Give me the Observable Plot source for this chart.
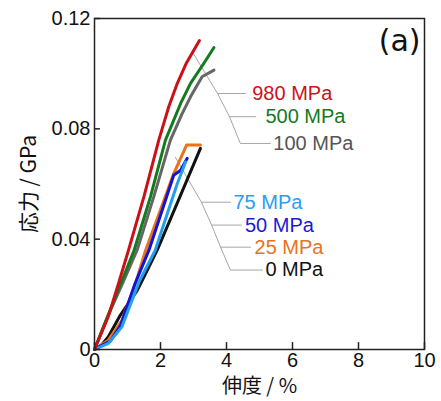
<!DOCTYPE html>
<html><head><meta charset="utf-8">
<script src="https://cdn.jsdelivr.net/npm/d3@7"></script>
<script src="https://cdn.jsdelivr.net/npm/@observablehq/plot@0.6"></script>
<style>body{margin:0;background:#fff}</style>
</head><body><div id="chart"></div>
<script>
// strain (%), stress (GPa)
const curve0   = [[0,0],[0.2,0.0015],[0.42,0.0046],[0.78,0.0124],[1.3,0.0215],[1.55,0.0275],[1.9,0.036],[2.5,0.0529],[3.21,0.0729]];
const curve25  = [[0,0],[0.42,0.0034],[0.83,0.0106],[1.24,0.0239],[1.55,0.036],[2.0,0.0507],[2.40,0.0638],[2.79,0.0741],[3.21,0.0741]];
const curve50  = [[0,0],[0.13,0.001],[0.48,0.003],[0.79,0.0088],[1.23,0.0239],[1.65,0.036],[2.0,0.0487],[2.40,0.0632],[2.61,0.065],[2.81,0.0693]];
const curve75  = [[0,0],[0.42,0.0022],[0.83,0.0082],[1.35,0.0245],[1.84,0.036],[2.2,0.049],[2.51,0.0602],[2.76,0.068]];
const curve100 = [[0,0],[0.4,0.012],[0.85,0.024],[1.29,0.036],[1.8,0.0555],[2.3,0.0759],[2.66,0.0856],[2.91,0.0916],[3.26,0.0989],[3.62,0.1013]];
const curve500 = [[0,0],[0.4,0.012],[0.8,0.024],[1.2,0.036],[1.7,0.0555],[2.15,0.0759],[2.61,0.0892],[2.91,0.0965],[3.31,0.1037],[3.62,0.1095]];
const curve980 = [[0,0],[0.42,0.012],[0.73,0.024],[1.03,0.036],[1.5,0.0555],[1.95,0.076],[2.25,0.088],[2.51,0.0965],[2.79,0.104],[3.18,0.112]];

const seriesNames  = ["0 MPa","25 MPa","50 MPa","75 MPa","100 MPa","500 MPa","980 MPa"];
const seriesColors = ["#111111","#e8731f","#1414d2","#22a0ee","#666666","#137a1d","#cc1018"];
const labelColors  = ["#111111","#e8731f","#1a1ad6","#2a9df4","#555555","#137a1d","#d0101a"];

// leader lines (strain %, stress GPa)
const leader980 = [[2.97,0.1078],[3.73,0.0928],[4.58,0.0928]];
const leader500 = [[3.73,0.0928],[4.09,0.0844],[4.88,0.0844]];
const leader100 = [[4.09,0.0844],[4.42,0.0747],[5.33,0.0747]];
const leader75  = [[2.45,0.0697],[3.24,0.0534],[4.12,0.0534]];
const leader50  = [[3.24,0.0534],[3.55,0.0451],[4.45,0.0451]];
const leader25  = [[3.55,0.0451],[3.82,0.0371],[4.73,0.0371]];
const leader0   = [[3.82,0.0371],[4.12,0.0288],[5.09,0.0288]];

// label anchor positions (start of text)
const labelX = [5.18, 4.85, 4.56, 4.21, 5.42, 5.18, 4.78];
const labelY = [0.0288, 0.0371, 0.0451, 0.0534, 0.0747, 0.0844, 0.0928];

const xTicks = [0,2,4,6,8,10];
const yTicks = [0,0.04,0.08,0.12];

const curves = [curve0,curve25,curve50,curve75,curve100,curve500,curve980];
const leaders = [leader0,leader25,leader50,leader75,leader100,leader500,leader980];

const rows = curves.flatMap((c,i)=>c.map(([x,y])=>({x,y,s:seriesNames[i]})));
const lrows = leaders.flatMap((c,i)=>c.map(([x,y])=>({x,y,s:seriesNames[i]})));
const labels = seriesNames.map((n,i)=>({x:labelX[i], y:labelY[i], text:n, color:labelColors[i]}));

const chart = Plot.plot({
  width: 441, height: 401,
  marginLeft: 94, marginTop: 18, marginRight: 17, marginBottom: 52,
  style: {fontFamily: "'Liberation Sans', Arial, sans-serif", fontSize: "19px", background: "#fff", color: "#111"},
  x: {domain: [0,10]},
  y: {domain: [0,0.12]},
  color: {domain: seriesNames, range: seriesColors},
  marks: [
    Plot.line(lrows, {x:"x", y:"y", z:"s", stroke:"#a6a6a6", strokeWidth:1}),
    Plot.line(rows, {x:"x", y:"y", z:"s", stroke:"s", strokeWidth:3, strokeLinejoin:"round", strokeLinecap:"round"}),
    Plot.text(labels, {x:"x", y:"y", text:"text", fill:"color", textAnchor:"start", fontSize:20}),
    Plot.frame({stroke:"#222", strokeWidth:1.5}),
    Plot.ruleX(xTicks, {x: d => d, y1: 0, y2: 0.0025, stroke:"#222", strokeWidth:1.5}),
    Plot.ruleY(yTicks, {y: d => d, x1: 0, x2: 0.18, stroke:"#222", strokeWidth:1.5}),
    Plot.axisX({ticks: xTicks, tickSize: 0, tickPadding: 3, fontSize: 20, label: null}),
    Plot.axisY({ticks: yTicks, tickSize: 0, tickPadding: 4, fontSize: 20, label: null,
      tickFormat: d => d === 0 ? "0" : d.toFixed(2)}),
    Plot.text(["伸度 / %"], {frameAnchor:"bottom", dy: 37, lineAnchor:"middle", textAnchor:"middle", fontSize: 20, fontFamily:"'Noto Sans CJK JP', sans-serif"}),
    Plot.text(["応力 / GPa"], {frameAnchor:"left", rotate:-90, dx:-65, lineAnchor:"middle", textAnchor:"middle", fontSize: 21, fontFamily:"'Noto Sans CJK JP', sans-serif"}),
    Plot.text(["(a)"], {frameAnchor:"top-right", dx:-4, dy:23, lineAnchor:"middle", textAnchor:"end", fontSize: 30, fontFamily:"'DejaVu Sans', sans-serif"})
  ]
});
document.getElementById("chart").appendChild(chart);
</script>
</body></html>
